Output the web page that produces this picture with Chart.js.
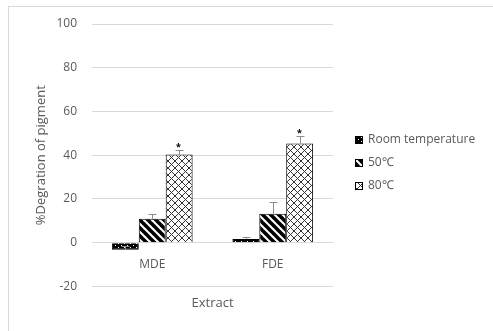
<!DOCTYPE html>
<html>
<head>
<meta charset="utf-8">
<script src="https://cdn.jsdelivr.net/npm/chart.js@4.4.1/dist/chart.umd.min.js"></script>
<style>
html,body{margin:0;padding:0;background:#fff;}
canvas{display:block;}
</style>
</head>
<body>
<canvas id="c" width="493" height="331"></canvas>
<script>
const categories = ['MDE', 'FDE'];
const seriesNames = ['Room temperature', '50\u2103', '80\u2103'];
const roomTemp = [-3.2, 1.7];
const temp50 = [10.9, 13.2];
const temp80 = [40.3, 45.3];
const errRoom = [1.8, 1.0];
const err50 = [2.3, 5.5];
const err80 = [2.3, 3.5];
const sigRoom = ['', ''];
const sig50 = ['', ''];
const sig80 = ['*', '*'];
const yMin = -20, yMax = 100, yStep = 20;

function makePattern(kind) {
  const c = document.createElement('canvas');
  const g = c.getContext('2d');
  if (kind === 'dots') {
    c.width = 6; c.height = 4;
    g.fillStyle = '#000'; g.fillRect(0, 0, 6, 4);
    g.fillStyle = '#fff';
    g.fillRect(1, 1, 1, 1); g.fillRect(4, 3, 1, 1);
  } else if (kind === 'stripes') {
    c.width = 8; c.height = 8;
    g.fillStyle = '#fff'; g.fillRect(0, 0, 8, 8);
    g.strokeStyle = '#000'; g.lineWidth = 3.6;
    for (let k = -1; k <= 1; k++) {
      g.beginPath(); g.moveTo(k * 8 - 2, -2); g.lineTo(k * 8 + 10, 10); g.stroke();
    }
  } else {
    c.width = 7; c.height = 7;
    g.fillStyle = '#fff'; g.fillRect(0, 0, 7, 7);
    g.strokeStyle = '#333'; g.lineWidth = 1;
    g.beginPath(); g.moveTo(-1, -1); g.lineTo(8, 8); g.stroke();
    g.beginPath(); g.moveTo(8, -1); g.lineTo(-1, 8); g.stroke();
  }
  return g.createPattern(c, 'repeat');
}

const errs = [errRoom, err50, err80];
const sigs = [sigRoom, sig50, sig80];
const tickColor = '#595959';
const fontFamily = '"Open Sans", "Noto Sans", sans-serif';
const font = { family: fontFamily, size: 12 };

const frame = {
  id: 'frame',
  beforeDraw(chart) {
    const ctx = chart.ctx;
    ctx.save();
    ctx.fillStyle = '#fff';
    ctx.fillRect(0, 0, chart.width, chart.height);
    ctx.strokeStyle = '#d9d9d9';
    ctx.lineWidth = 1;
    ctx.strokeRect(8.5, 6.5, chart.width + 10, chart.height + 10);
    ctx.restore();
  }
};

const errorBars = {
  id: 'errorBars',
  afterDatasetsDraw(chart) {
    const ctx = chart.ctx;
    const ys = chart.scales.y;
    ctx.save();
    chart.data.datasets.forEach((ds, i) => {
      const meta = chart.getDatasetMeta(i);
      meta.data.forEach((bar, j) => {
        const v = ds.data[j];
        const e = errs[i][j];
        const x = Math.round(bar.x) + 0.5;
        const y0 = ys.getPixelForValue(v);
        const y1 = Math.round(ys.getPixelForValue(v + e)) + 0.5;
        ctx.strokeStyle = '#8c8c8c';
        ctx.lineWidth = 1;
        ctx.beginPath();
        ctx.moveTo(x, y0); ctx.lineTo(x, y1);
        ctx.moveTo(x - 4, y1); ctx.lineTo(x + 4, y1);
        ctx.stroke();
        const s = sigs[i][j];
        if (s) {
          ctx.fillStyle = '#000';
          ctx.font = 'bold 9px ' + fontFamily;
          ctx.textAlign = 'center';
          ctx.textBaseline = 'middle';
          ctx.fillText(s, x - 1, y1 - 3);
        }
      });
    });
    ctx.restore();
  }
};

const sideLegend = {
  id: 'sideLegend',
  afterDraw(chart) {
    const ctx = chart.ctx;
    const x0 = chart.chartArea.right + 22;
    const yStart = 140, gap = 23;
    ctx.save();
    ctx.font = '12px ' + fontFamily;
    ctx.textBaseline = 'middle';
    ctx.textAlign = 'left';
    chart.data.datasets.forEach((ds, i) => {
      const yc = yStart + i * gap;
      ctx.fillStyle = ds.backgroundColor;
      ctx.fillRect(x0, yc - 4, 8, 8);
      ctx.strokeStyle = '#000';
      ctx.lineWidth = 1;
      ctx.strokeRect(x0 + 0.5, yc - 3.5, 7, 7);
      ctx.fillStyle = tickColor;
      ctx.fillText(ds.label, x0 + 13, yc);
    });
    ctx.restore();
  }
};

new Chart(document.getElementById('c'), {
  type: 'bar',
  data: {
    labels: categories,
    datasets: [
      { label: seriesNames[0], data: roomTemp, backgroundColor: makePattern('dots'), borderColor: '#000', borderWidth: 1, xAxisID: 'x', yAxisID: 'y' },
      { label: seriesNames[1], data: temp50, backgroundColor: makePattern('stripes'), borderColor: '#000', borderWidth: 1, xAxisID: 'x', yAxisID: 'y' },
      { label: seriesNames[2], data: temp80, backgroundColor: makePattern('cross'), borderColor: '#000', borderWidth: 1, xAxisID: 'x', yAxisID: 'y' }
    ]
  },
  options: {
    responsive: false,
    animation: false,
    devicePixelRatio: 1,
    categoryPercentage: 0.67,
    barPercentage: 1,
    layout: { padding: { left: 0, right: 160, top: 24, bottom: 0 } },
    font: font,
    plugins: {
      tooltip: { enabled: false },
      legend: { display: false }
    },
    scales: {
      x: {
        type: 'category',
        position: { y: 0 },
        grid: { display: false, drawTicks: false },
        border: { display: false },
        ticks: { color: tickColor, font: font, padding: 15 }
      },
      x2: {
        type: 'category',
        position: 'bottom',
        grid: { display: false, drawTicks: false },
        border: { display: false },
        ticks: { display: false },
        title: { display: true, text: 'Extract', color: tickColor, font: { family: fontFamily, size: 13 }, padding: { top: 9, bottom: 20 } }
      },
      y: {
        type: 'linear',
        position: 'left',
        min: yMin, max: yMax,
        ticks: { stepSize: yStep, color: tickColor, font: font, padding: 15 },
        grid: { color: '#d9d9d9', drawTicks: false, tickLength: 0 },
        border: { display: false },
        title: { display: true, text: '%Degration of pigment', color: tickColor, font: { family: fontFamily, size: 13 }, padding: { top: 33, bottom: 0 } },
        afterFit(s) { s.width = 92; }
      }
    }
  },
  plugins: [frame, errorBars, sideLegend]
});
</script>
</body>
</html>
